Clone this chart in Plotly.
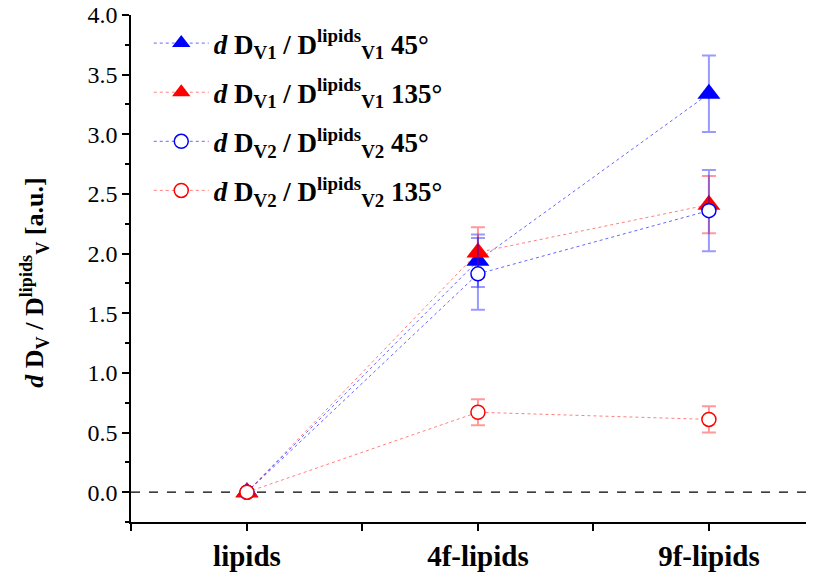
import plotly.graph_objects as go

categories = ["lipids", "4f-lipids", "9f-lipids"]
x_pos = [0, 1, 2]

v1_45 = [0.0, 1.94, 3.34]
v1_45_err = [0.0, 0.22, 0.32]
v1_135 = [0.0, 2.01, 2.41]
v1_135_err = [0.0, 0.21, 0.24]
v2_45 = [0.0, 1.83, 2.36]
v2_45_err = [0.0, 0.30, 0.34]
v2_135 = [0.0, 0.67, 0.61]
v2_135_err = [0.0, 0.11, 0.11]

names = [
    "<b><i>d</i> D<sub>V1</sub> / D<sup>lipids</sup><sub>V1</sub> 45°</b>",
    "<b><i>d</i> D<sub>V1</sub> / D<sup>lipids</sup><sub>V1</sub> 135°</b>",
    "<b><i>d</i> D<sub>V2</sub> / D<sup>lipids</sup><sub>V2</sub> 45°</b>",
    "<b><i>d</i> D<sub>V2</sub> / D<sup>lipids</sup><sub>V2</sub> 135°</b>",
]

BLUE = "#0000FF"
RED = "#FF0000"
FONT = "Liberation Serif, Times New Roman, serif"

series = [
    (v1_45, v1_45_err, BLUE, "triangle-up", 20, BLUE, "rgba(0,0,255,0.4)", "rgba(0,0,255,0.6)"),
    (v1_135, v1_135_err, RED, "triangle-up", 20, RED, "rgba(255,0,0,0.4)", "rgba(255,0,0,0.5)"),
    (v2_45, v2_45_err, BLUE, "circle", 14, "white", "rgba(0,0,255,0.4)", "rgba(0,0,255,0.6)"),
    (v2_135, v2_135_err, RED, "circle", 14, "white", "rgba(255,0,0,0.4)", "rgba(255,0,0,0.5)"),
]

fig = go.Figure()

# dashed zero line
fig.add_shape(type="line", xref="paper", x0=0, x1=1, yref="y", y0=0, y1=0,
              line=dict(color="black", width=1.2, dash="dash"), layer="below")

for i, (vals, errs, col, sym, size, fill, ecol, lcol) in enumerate(series):
    fig.add_trace(go.Scatter(
        x=x_pos, y=vals, name=names[i], mode="lines+markers",
        legendgroup=f"g{i}",
        line=dict(color=lcol, width=1, dash="dot"),
        marker=dict(symbol=sym, size=size, color=fill,
                    line=dict(color=col, width=1.5 if sym == "circle" else 0)),
        error_y=dict(type="data", array=errs, visible=True, color=ecol,
                     thickness=2, width=7),
    ))

fig.add_annotation(
    text="<b><i>d</i> D<sub>V</sub> / D<sup>lipids</sup><sub>V</sub> [a.u.]</b>",
    xref="paper", yref="paper", x=-0.142, y=0.472, xanchor="center", yanchor="middle",
    textangle=-90, showarrow=False,
    font=dict(family=FONT, size=26, color="black"),
)

fig.update_layout(
    width=806, height=566,
    margin=dict(l=123, r=0, t=7, b=52),
    plot_bgcolor="white", paper_bgcolor="white",
    font=dict(family=FONT, color="black"),
    showlegend=True,
    legend=dict(x=0.026, y=0.992, xanchor="left", yanchor="top",
                font=dict(family=FONT, size=27, color="black"),
                bgcolor="rgba(0,0,0,0)", tracegroupgap=11,
                itemwidth=55),
)

fig.update_xaxes(
    range=[-0.502, 2.455], tickvals=x_pos, ticktext=[f"<b>{c}</b>" for c in categories],
    tickfont=dict(family=FONT, size=29, color="black"),
    showline=True, linecolor="black", linewidth=1.5, ticks="outside", ticklen=7,
    tickwidth=1.5, tickcolor="black", showgrid=False, zeroline=False, automargin=False,
    minor=dict(tickvals=[-0.5, 0.5, 1.5], ticks="outside", ticklen=7, tickwidth=1.5, tickcolor="black"),
)
fig.update_yaxes(
    range=[-0.25, 4.0], tickvals=[0, 0.5, 1, 1.5, 2, 2.5, 3, 3.5, 4.0], tickformat=".1f",
    tickfont=dict(family=FONT, size=24, color="black"), ticklabeloverflow="allow",
    showline=True, linecolor="black", linewidth=1.5, ticks="outside", ticklen=7,
    tickwidth=1.5, tickcolor="black", showgrid=False, zeroline=False, automargin=False,
    minor=dict(tickvals=[-0.25, 0.25, 0.75, 1.25, 1.75, 2.25, 2.75, 3.25, 3.75],
               ticks="outside", ticklen=4, tickwidth=1.5, tickcolor="black"),
)

fig.write_html("out.html")
